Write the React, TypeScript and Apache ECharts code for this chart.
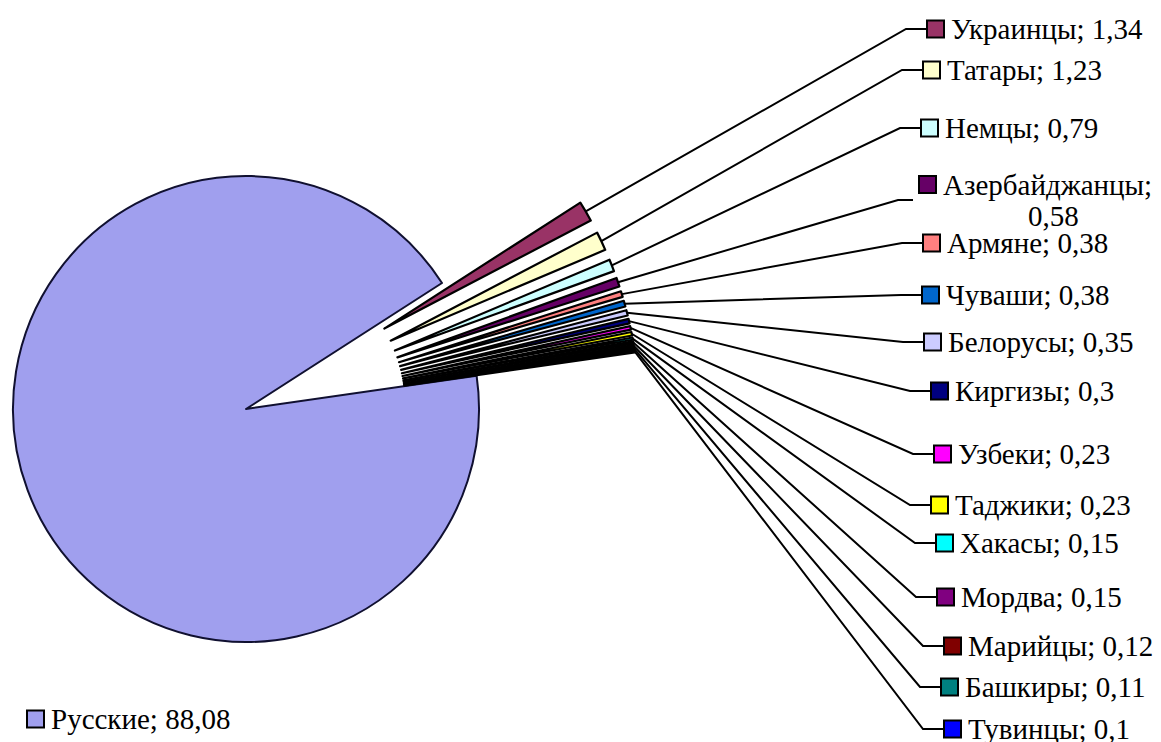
import React, { useEffect, useRef } from "react";
import * as echarts from "echarts";

const names = [
  "Русские", "Украинцы", "Татары", "Немцы", "Азербайджанцы", "Армяне", "Чуваши",
  "Белорусы", "Киргизы", "Узбеки", "Таджики", "Хакасы", "Мордва", "Марийцы",
  "Башкиры", "Тувинцы",
];
const values = [88.08, 1.34, 1.23, 0.79, 0.58, 0.38, 0.38, 0.35, 0.3, 0.23, 0.23, 0.15, 0.15, 0.12, 0.11, 0.1];
const colors = [
  "#A09FEE", "#993366", "#FFFFCC", "#CCFFFF", "#660066", "#FF8080", "#0066CC",
  "#CCCCFF", "#000080", "#FF00FF", "#FFFF00", "#00FFFF", "#800080", "#800000",
  "#008080", "#0000FF",
];
// label layout (legend-key left x, label block centre y)
const labelX = [28, 928, 924, 922, 920, 924, 923, 925, 932, 935, 932, 937, 938, 945, 942, 945];
const labelY = [719, 29, 70, 128, 200, 243, 295, 342, 391, 454, 505, 543, 597, 646, 687, 729];

const FONT = "Liberation Serif";
const CENTER = [246, 409];
const R = 233;
const EXPLODE = 160;
const START = 8.2;

function fmt(v: number) {
  return String(v).replace(".", ",");
}

export default function App() {
  const ref = useRef<HTMLDivElement>(null);
  useEffect(() => {
    document.body.style.margin = "0";
    const chart = echarts.init(ref.current!, null, { renderer: "svg" });
    const rich: any = {
      t: { fontFamily: FONT, fontSize: 29, color: "#000", padding: [0, 0, 0, 8], lineHeight: 31 },
      c: { fontFamily: FONT, fontSize: 29, color: "#000", padding: [0, 0, 0, 108], lineHeight: 31 },
    };
    colors.forEach((c, i) => {
      rich["k" + i] = {
        width: 15, height: 15, backgroundColor: c, borderColor: "#000", borderWidth: 2,
      };
    });
    chart.setOption({
      animation: false,
      backgroundColor: "#fff",
      textStyle: { fontFamily: FONT },
      series: [
        {
          type: "pie",
          center: CENTER,
          radius: R,
          startAngle: START,
          clockwise: true,
          selectedMode: "multiple",
          selectedOffset: EXPLODE,
          silent: true,
          emphasis: { disabled: true },
          itemStyle: { borderColor: "#000", borderWidth: 2.2 },
          select: { itemStyle: { borderColor: "#000", borderWidth: 2.2 } },
          label: { show: false },
          labelLine: { show: false },
          data: names.map((n, i) => ({
            name: n,
            value: values[i],
            selected: i > 0,
            itemStyle: i === 0 ? { color: colors[i], borderColor: "#101030", borderWidth: 2 } : { color: colors[i] },
          })),
        },
        {
          // label carrier: transparent ring reaching the exploded slices' outer edge
          type: "pie",
          center: CENTER,
          radius: R + EXPLODE,
          startAngle: START,
          clockwise: true,
          silent: true,
          avoidLabelOverlap: false,
          emphasis: { disabled: true },
          itemStyle: { color: "rgba(0,0,0,0)", borderWidth: 0 },
          label: {
            show: true,
            position: "outside",
            fontFamily: FONT,
            fontSize: 29,
            color: "#000",
            rich,
            formatter: (p: any) => {
              const i = p.dataIndex;
              if (names[i] === "Азербайджанцы") {
                return `{k${i}|}{t|${p.name};}\n{c|${fmt(p.value)}}`;
              }
              return `{k${i}|}{t|${p.name}; ${fmt(p.value)}}`;
            },
          },
          labelLine: { show: true, smooth: false, length: 10, length2: 10, lineStyle: { color: "#000", width: 2 } },
          labelLayout: (p: any) => {
            const i = p.dataIndex;
            const x = labelX[i];
            const y = labelY[i];
            const res: any = { x, y, align: "left", verticalAlign: "middle" };
            if (i > 0 && p.labelLinePoints) {
              const start = p.labelLinePoints[0];
              const endGap = names[i] === "Азербайджанцы" ? 7 : 2;
              res.labelLinePoints = [start, [x - 22, y], [x - endGap, y]];
            }
            return res;
          },
          data: names.map((n, i) => ({
            name: n,
            value: values[i],
            labelLine: { show: i > 0 },
          })),
        },
      ],
    });
    return () => chart.dispose();
  }, []);
  return <div ref={ref} style={{ position: "fixed", left: 0, top: 0, width: 1161, height: 742 }} />;
}
